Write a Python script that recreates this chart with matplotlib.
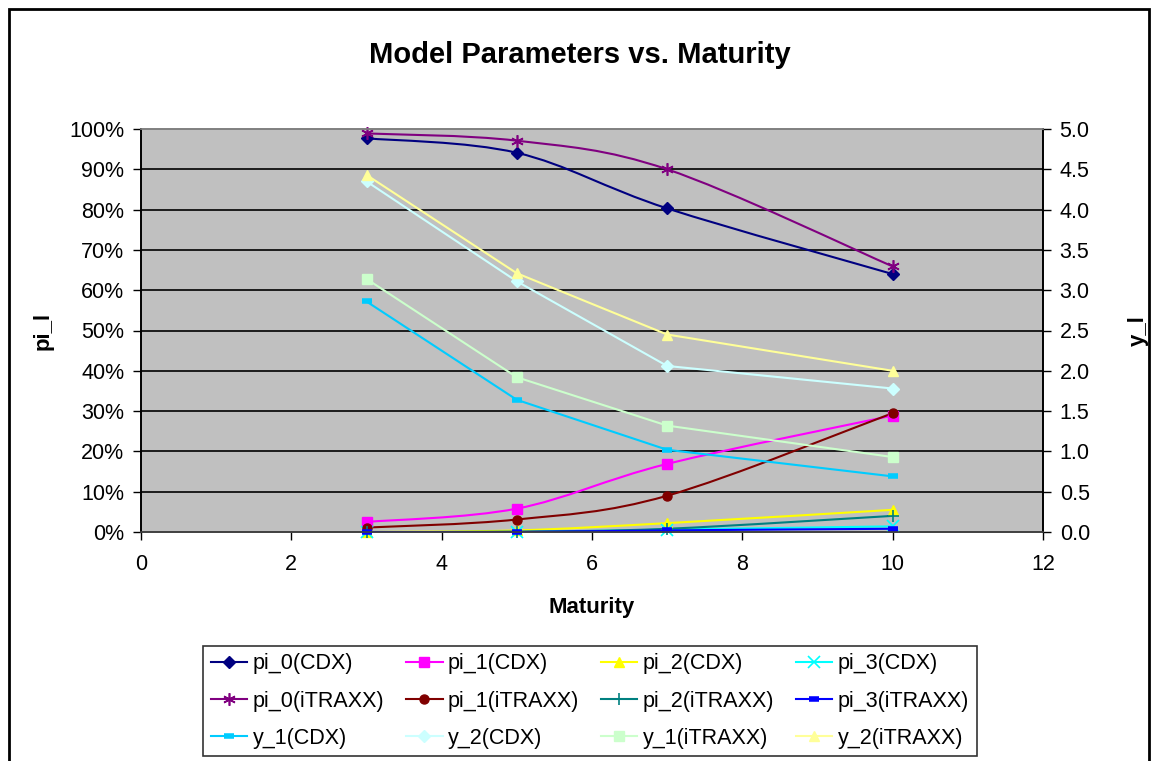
import matplotlib.pyplot as plt
import matplotlib.patches as mpatches
from matplotlib.path import Path
from matplotlib.lines import Line2D
import numpy as np

plt.rcParams['font.family'] = ['Liberation Sans', 'DejaVu Sans']

maturity = [3, 5, 7, 10]

# left axis (share of pi)
pi_0_cdx = [0.977, 0.941, 0.803, 0.640]
pi_1_cdx = [0.025, 0.058, 0.169, 0.289]
pi_2_cdx = [0.000, 0.004, 0.022, 0.055]
pi_3_cdx = [0.000, 0.000, 0.006, 0.014]
pi_0_itraxx = [0.989, 0.971, 0.900, 0.659]
pi_1_itraxx = [0.011, 0.031, 0.090, 0.295]
pi_2_itraxx = [0.000, 0.001, 0.008, 0.040]
pi_3_itraxx = [0.000, 0.000, 0.004, 0.008]

# right axis
y_1_cdx = [2.86, 1.64, 1.02, 0.69]
y_2_cdx = [4.35, 3.11, 2.06, 1.78]
y_1_itraxx = [3.14, 1.92, 1.32, 0.93]
y_2_itraxx = [4.43, 3.21, 2.45, 2.00]

left_series = [
    ('pi_0(CDX)', pi_0_cdx, '#000080', 'D'),
    ('pi_1(CDX)', pi_1_cdx, '#FF00FF', 's'),
    ('pi_2(CDX)', pi_2_cdx, '#FFFF00', '^'),
    ('pi_3(CDX)', pi_3_cdx, '#00FFFF', 'x'),
    ('pi_0(iTRAXX)', pi_0_itraxx, '#800080', '*x'),
    ('pi_1(iTRAXX)', pi_1_itraxx, '#800000', 'o'),
    ('pi_2(iTRAXX)', pi_2_itraxx, '#008080', '+'),
    ('pi_3(iTRAXX)', pi_3_itraxx, '#0000FF', '_'),
]
right_series = [
    ('y_1(CDX)', y_1_cdx, '#00CCFF', '_'),
    ('y_2(CDX)', y_2_cdx, '#CCFFFF', 'D'),
    ('y_1(iTRAXX)', y_1_itraxx, '#CCFFCC', 's'),
    ('y_2(iTRAXX)', y_2_itraxx, '#FFFF99', '^'),
]


def marker_kw(m, c):
    if m == '*x':
        # excel star marker: x with a vertical bar
        return dict(marker=(6, 2, 0), markersize=9, markeredgecolor=c, markeredgewidth=1.2)
    if m in ('x', '+'):
        return dict(marker=m, markersize=8, markeredgecolor=c, markeredgewidth=1.2)
    if m == '_':
        return dict(marker=m, markersize=7, markeredgecolor=c, markeredgewidth=4)
    return dict(marker=m, markersize=6.5, markerfacecolor=c, markeredgecolor=c)


def smooth_path(x, y):
    # excel-like smoothed line: cubic bezier segments
    x = np.asarray(x, float)
    y = np.asarray(y, float)
    n = len(x)
    verts = [(x[0], y[0])]
    codes = [Path.MOVETO]
    for i in range(n - 1):
        i0 = max(i - 1, 0)
        i3 = min(i + 2, n - 1)
        c1 = (x[i] + (x[i + 1] - x[i0]) / 6, y[i] + (y[i + 1] - y[i0]) / 6)
        c2 = (x[i + 1] - (x[i3] - x[i]) / 6, y[i + 1] - (y[i3] - y[i]) / 6)
        verts += [c1, c2, (x[i + 1], y[i + 1])]
        codes += [Path.CURVE4] * 3
    return Path(verts, codes)


fig = plt.figure(figsize=(11.55, 7.61), dpi=100)
ax = fig.add_axes([141 / 1155, 1 - 532 / 761, (1043 - 141) / 1155, (532 - 129) / 761])
ax.set_facecolor('#C0C0C0')
ax.set_xlim(0, 12)
ax.set_ylim(0, 1)
ax.set_xticks(np.arange(0, 13, 2))
ax.set_yticks(np.arange(0, 1.01, 0.1))
ax.set_yticklabels([f'{int(round(v * 100))}%' for v in np.arange(0, 1.01, 0.1)])
for v in np.arange(0.1, 0.95, 0.1):
    ax.axhline(v, color='black', linewidth=1.2, zorder=1)

ax2 = ax.twinx()
ax2.set_ylim(0, 5)
ax2.set_yticks(np.arange(0, 5.01, 0.5))
ax2.set_yticklabels([f'{v:.1f}' for v in np.arange(0, 5.01, 0.5)])

for a in (ax, ax2):
    a.tick_params(axis='both', direction='out', length=6, width=1, labelsize=15.5, colors='black', pad=6)
    a.tick_params(axis='x', pad=10)
    a.spines['top'].set_color('#808080')
    a.spines['bottom'].set_color('#404040')
    a.spines['left'].set_color('black')
    a.spines['right'].set_color('black')
    for s in a.spines.values():
        s.set_linewidth(1.2)

handles = []
for name, vals, c, m in left_series:
    ax.add_patch(mpatches.PathPatch(smooth_path(maturity, vals), facecolor='none',
                                    edgecolor=c, linewidth=1.5, zorder=3))
    ax.plot(maturity, vals, linestyle='none', zorder=4, clip_on=False, **marker_kw(m, c))
    handles.append(Line2D([], [], color=c, linewidth=1.5, **marker_kw(m, c)))

for name, vals, c, m in right_series:
    ax2.plot(maturity, vals, color=c, linewidth=1.5, zorder=4, clip_on=False, **marker_kw(m, c))
    handles.append(Line2D([], [], color=c, linewidth=1.5, **marker_kw(m, c)))

labels = [s[0] for s in left_series + right_series]

ax.set_xlabel('Maturity', fontsize=16, fontweight='bold', labelpad=16)
ax.set_ylabel('pi_l', fontsize=16, fontweight='bold', labelpad=11)
ax2.set_ylabel('y_l', fontsize=16, fontweight='bold', labelpad=27, rotation=90)

fig.text(0.502, 1 - 55 / 761, 'Model Parameters vs. Maturity', ha='center', va='center',
         fontsize=21, fontweight='bold')

# legend filled row by row
order = [r * 4 + c for c in range(4) for r in range(3)]
leg = fig.legend([handles[i] for i in order], [labels[i] for i in order], ncol=4,
                 loc='center', bbox_to_anchor=(590 / 1155, 1 - 701 / 761), fontsize=15.5,
                 frameon=True, fancybox=False, edgecolor='black', handlelength=1.7,
                 handletextpad=0.25, columnspacing=1.0, labelspacing=0.75, borderpad=0.35)
leg.get_frame().set_linewidth(1.2)

fig.patches.append(mpatches.Rectangle((9 / 1155, -0.02), (1149 - 9) / 1155, 1 - 9 / 761 + 0.02,
                                      transform=fig.transFigure, fill=False,
                                      edgecolor='black', linewidth=2))

fig.savefig('out.png', dpi=100)
